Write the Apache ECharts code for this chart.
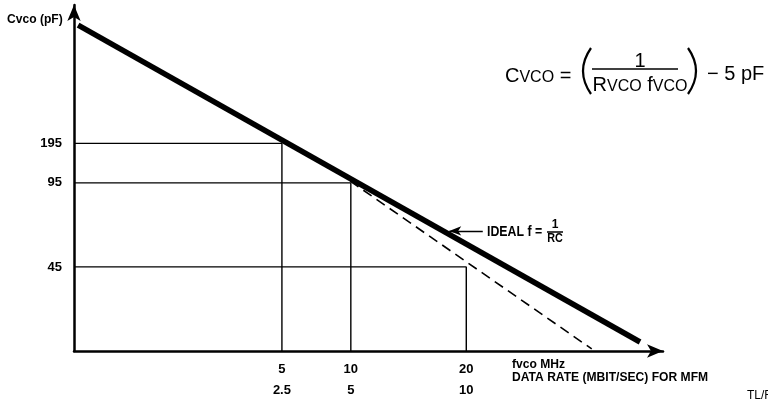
<!DOCTYPE html>
<html>
<head>
<meta charset="utf-8">
<script src="https://cdn.jsdelivr.net/npm/echarts@6/dist/echarts.min.js"></script>
<style>
html,body{margin:0;padding:0;background:#fff;}
#chart{width:768px;height:401px;}
</style>
</head>
<body>
<div id="chart"></div>
<script>
// Schematic axes (the figure is not drawn to a linear scale): positions in axis units 0..100
const xTickLabels = ['5', '10', '20'];          // fvco MHz
const xTickLabels2 = ['2.5', '5', '10'];        // data rate MBIT/SEC for MFM
const xTickPos = [35.3, 47.0, 66.6];
const yTickLabels = ['195', '95', '45'];        // Cvco pF
const yTickPos = [60.0, 48.6, 24.3];

const idealX = [0.7, 96.1];
const idealY = [94.2, 2.6];
const actualX = [46.9, 87.9];
const actualY = [49.1, 0.6];

const annotX = [69.4, 63.7];
const annotY = [34.7, 34.7];

const BOLD = "'Liberation Sans', Arial, sans-serif";
const REG = "'Liberation Sans', Arial, sans-serif";

function findIdx(arr, v) {
  return arr.findIndex(p => Math.abs(p - v) < 1e-6);
}

const series = [];
// reference lines from the axes to the curve points
for (let i = 0; i < xTickPos.length; i++) {
  series.push({
    type: 'line',
    data: [[0, yTickPos[i]], [xTickPos[i], yTickPos[i]], [xTickPos[i], 0]],
    showSymbol: false,
    lineStyle: { color: '#000', width: 1.4 },
    silent: true
  });
}
series.push({
  type: 'line',
  data: idealX.map((x, i) => [x, idealY[i]]),
  showSymbol: false,
  lineStyle: { color: '#000', width: 5.5, cap: 'butt' },
  markLine: {
    silent: true,
    symbol: ['none', 'arrow'],
    symbolSize: [7, 12],
    label: { show: false },
    lineStyle: { color: '#000', width: 1.4, type: 'solid' },
    data: [[{ coord: [annotX[0], annotY[0]] }, { coord: [annotX[1], annotY[1]] }]]
  }
});
series.push({
  type: 'line',
  data: actualX.map((x, i) => [x, actualY[i]]),
  showSymbol: false,
  lineStyle: { color: '#000', width: 1.6, type: [10, 6] }
});

const richF = {
  c: { font: '20px ' + REG, fill: '#000', verticalAlign: 'bottom', lineHeight: 22 },
  s: { font: '16px ' + REG, fill: '#000', verticalAlign: 'bottom', lineHeight: 20 }
};

const chart = echarts.init(document.getElementById('chart'));
chart.setOption({
  animation: false,
  backgroundColor: '#fff',
  grid: { left: 74, right: 105, top: 5, bottom: 50 },
  xAxis: {
    type: 'value', min: 0, max: 100,
    splitLine: { show: false },
    axisTick: { show: false },
    axisLine: { lineStyle: { color: '#000', width: 2.5 }, symbol: ['none', 'arrow'], symbolSize: [10, 16] },
    axisLabel: {
      customValues: xTickPos,
      margin: 8,
      verticalAlign: 'top',
      formatter: v => {
        const i = findIdx(xTickPos, v);
        return i < 0 ? '' : '{a|' + xTickLabels[i] + '}\n{a|' + xTickLabels2[i] + '}';
      },
      rich: { a: { fontFamily: BOLD, fontWeight: 'bold', fontSize: 13, color: '#000', lineHeight: 21 } }
    }
  },
  yAxis: {
    type: 'value', min: 0, max: 100,
    splitLine: { show: false },
    axisTick: { show: false },
    axisLine: { lineStyle: { color: '#000', width: 2.5 }, symbol: ['none', 'arrow'], symbolSize: [10, 16] },
    axisLabel: {
      customValues: yTickPos,
      margin: 12,
      fontFamily: BOLD, fontWeight: 'bold', fontSize: 13, color: '#000',
      formatter: v => {
        const i = findIdx(yTickPos, v);
        return i < 0 ? '' : yTickLabels[i];
      }
    }
  },
  series: series,
  graphic: [
    { type: 'text', x: 7, y: 19, scaleX: 0.93, style: { text: 'Cvco (pF)', font: 'bold 13px ' + BOLD, fill: '#000', verticalAlign: 'middle' } },
    { type: 'text', x: 512, y: 364, scaleX: 0.93, style: { text: 'fvco MHz', font: 'bold 13px ' + BOLD, fill: '#000', verticalAlign: 'middle' } },
    { type: 'text', x: 512, y: 377, scaleX: 0.93, style: { text: 'DATA RATE (MBIT/SEC) FOR MFM', font: 'bold 13px ' + BOLD, fill: '#000', verticalAlign: 'middle' } },
    { type: 'text', x: 487, y: 232, scaleX: 0.88, style: { text: 'IDEAL f =', font: 'bold 14px ' + BOLD, fill: '#000', verticalAlign: 'middle' } },
    { type: 'text', x: 555, y: 225, style: { text: '1', font: 'bold 12px ' + BOLD, fill: '#000', align: 'center', verticalAlign: 'middle' } },
    { type: 'line', shape: { x1: 547, y1: 232, x2: 563, y2: 232 }, style: { stroke: '#000', lineWidth: 1.5 } },
    { type: 'text', x: 555, y: 239, scaleX: 0.9, style: { text: 'RC', font: 'bold 12px ' + BOLD, fill: '#000', align: 'center', verticalAlign: 'middle' } },
    // formula
    { type: 'text', x: 505, y: 86, style: {
        text: '{c|C}{s|VCO}{c| =}', verticalAlign: 'bottom', rich: richF } },
    { type: 'bezierCurve', shape: { x1: 591, y1: 48, x2: 591, y2: 94, cpx1: 575, cpy1: 71 }, style: { stroke: '#000', lineWidth: 2.2, fill: null } },
    { type: 'text', x: 640, y: 61, style: { text: '1', font: '20px ' + REG, fill: '#000', align: 'center', verticalAlign: 'middle' } },
    { type: 'line', shape: { x1: 592, y1: 69, x2: 678, y2: 69 }, style: { stroke: '#000', lineWidth: 1.5 } },
    { type: 'text', x: 640, y: 95, style: {
        text: '{c|R}{s|VCO}{c| f}{s|VCO}', align: 'center', verticalAlign: 'bottom', rich: richF } },
    { type: 'bezierCurve', shape: { x1: 688, y1: 48, x2: 688, y2: 94, cpx1: 704, cpy1: 71 }, style: { stroke: '#000', lineWidth: 2.2, fill: null } },
    { type: 'text', x: 707, y: 74, style: { text: '\u2212 5 pF', font: '20px ' + REG, fill: '#000', verticalAlign: 'middle' } },
    { type: 'text', x: 747, y: 396, style: { text: 'TL/F/', font: '12px ' + REG, fill: '#000', verticalAlign: 'middle' } }
  ]
});
</script>
</body>
</html>
